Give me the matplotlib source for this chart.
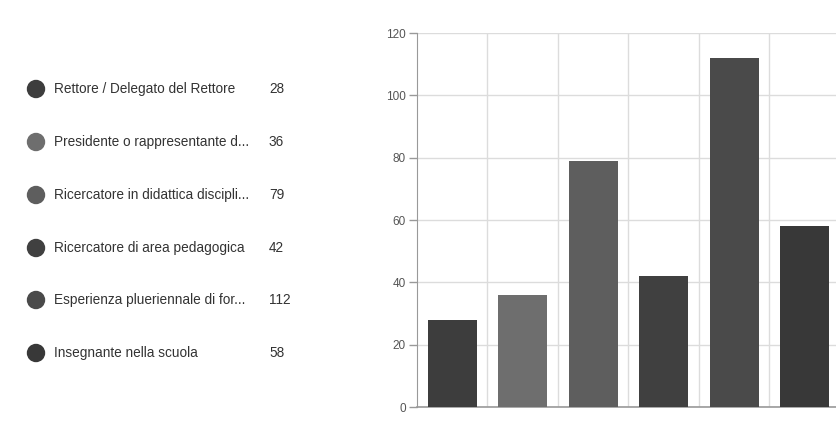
import matplotlib
matplotlib.use("Agg")
import matplotlib.pyplot as plt
from matplotlib.patches import Ellipse

categories = [
    "Rettore / Delegato del Rettore",
    "Presidente o rappresentante d...",
    "Ricercatore in didattica discipli...",
    "Ricercatore di area pedagogica",
    "Esperienza plueriennale di for...",
    "Insegnante nella scuola",
]
values = [28, 36, 79, 42, 112, 58]
colors = ["#3d3d3d", "#6e6e6e", "#5e5e5e", "#404040", "#4a4a4a", "#383838"]
yticks = [0, 20, 40, 60, 80, 100, 120]

W, H = 837, 423
fig = plt.figure(figsize=(W / 100, H / 100), dpi=100)
fig.patch.set_facecolor("white")

ax = fig.add_axes([417 / W, (H - 407) / H, (840 - 417) / W, (407 - 33) / H])
x = list(range(len(values)))
ax.bar(x, values, width=0.7, color=colors, zorder=3)
ax.set_xlim(-0.5, len(values) - 0.5)
ax.set_ylim(0, 120)
ax.set_yticks(yticks)
ax.set_yticklabels([str(t) for t in yticks], fontsize=8.5, color="#555555",
                   family="Liberation Sans")
ax.set_xticks([i + 0.5 for i in range(len(values) - 1)])
ax.set_xticklabels([])
ax.tick_params(axis="x", length=0)
ax.tick_params(axis="y", length=6, color="#999999", width=1, pad=2)
ax.grid(True, color="#dcdcdc", linewidth=1, zorder=0)
for s in ["top", "right"]:
    ax.spines[s].set_visible(False)
ax.spines["left"].set_color("#999999")
ax.spines["bottom"].set_color("#999999")
ax.spines["bottom"].set_linewidth(1.2)

row_y = [89, 142, 195, 248, 300, 353]
for i, (lab, v, c) in enumerate(zip(categories, values, colors)):
    yy = 1 - row_y[i] / H
    fig.patches.append(Ellipse((36 / W, yy), 17 / W, 17 / H,
                               transform=fig.transFigure, color=c))
    fig.text(54 / W, yy, lab, fontsize=9.8, color="#333333", va="center",
             ha="left", family="Liberation Sans")
    fig.text(269 / W, yy, str(v), fontsize=9.8, color="#333333", va="center",
             ha="left", family="Liberation Sans")

fig.savefig("out.png", dpi=100, facecolor="white")
